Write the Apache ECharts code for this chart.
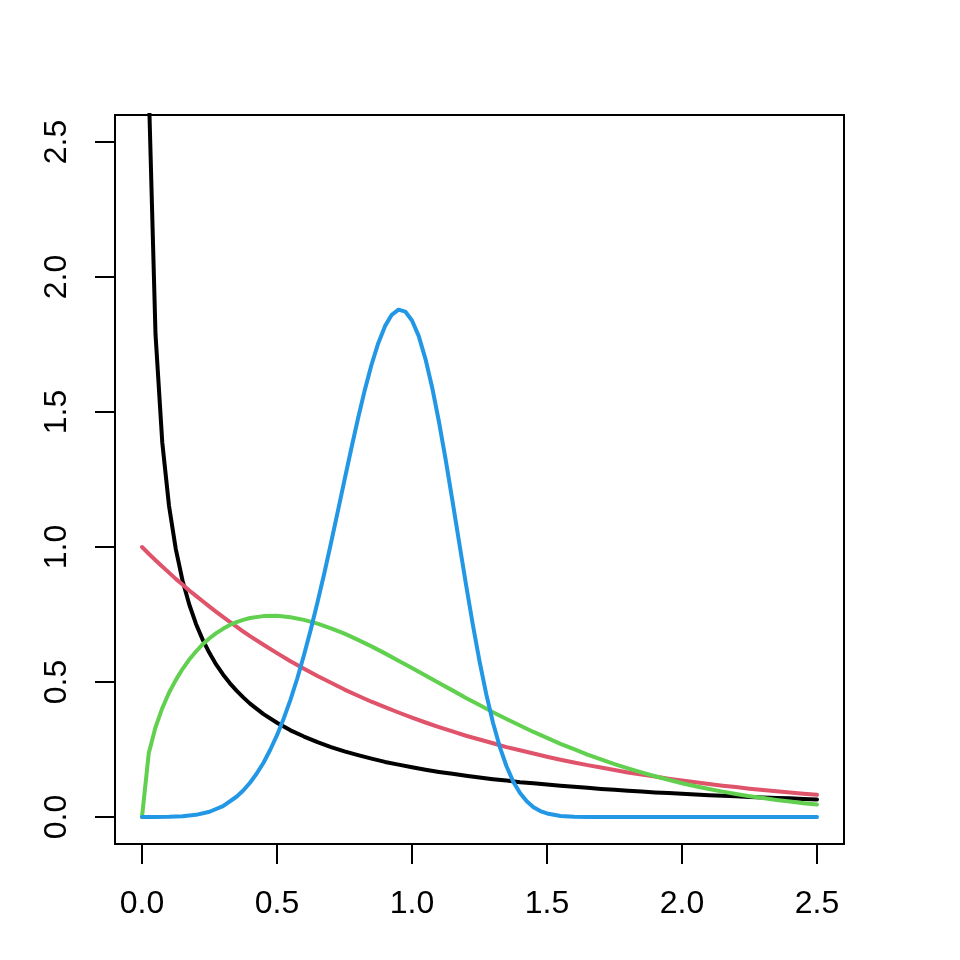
<!DOCTYPE html>
<html>
<head>
<meta charset="utf-8">
<script src="https://cdn.jsdelivr.net/npm/echarts@6/dist/echarts.min.js"></script>
<style>
html,body{margin:0;padding:0;background:#fff;}
#chart{width:960px;height:960px;}
</style>
</head>
<body>
<div id="chart"></div>
<script>
// shared x grid for black, red, green curves
const xs = [0,0.025,0.05,0.075,0.1,0.125,0.15,0.175,0.2,0.225,0.25,0.275,0.3,0.325,0.35,0.375,0.4,0.45,0.5,0.55,0.6,0.65,0.7,0.75,0.8,0.85,0.9,0.95,1,1.05,1.1,1.15,1.2,1.25,1.3,1.35,1.4,1.45,1.5,1.55,1.6,1.65,1.7,1.75,1.8,1.85,1.9,1.95,2,2.05,2.1,2.15,2.2,2.25,2.3,2.35,2.4,2.45,2.5];
const yBlack = [null,2.70,1.788,1.388,1.153,0.993,0.876,0.787,0.715,0.656,0.607,0.564,0.528,0.496,0.468,0.443,0.420,0.381,0.349,0.321,0.298,0.277,0.259,0.243,0.229,0.216,0.204,0.194,0.184,0.175,0.167,0.160,0.153,0.146,0.140,0.135,0.129,0.125,0.120,0.116,0.112,0.108,0.104,0.101,0.097,0.094,0.091,0.089,0.086,0.083,0.081,0.079,0.077,0.074,0.072,0.070,0.069,0.067,0.065];
const yRed = [1.000,0.975,0.951,0.928,0.905,0.882,0.861,0.839,0.819,0.799,0.779,0.760,0.741,0.723,0.705,0.687,0.670,0.638,0.607,0.577,0.549,0.522,0.497,0.472,0.449,0.427,0.407,0.387,0.368,0.350,0.333,0.317,0.301,0.287,0.273,0.259,0.247,0.235,0.223,0.212,0.202,0.192,0.183,0.174,0.165,0.157,0.150,0.142,0.135,0.129,0.122,0.116,0.111,0.105,0.100,0.095,0.091,0.086,0.082];
const yGreen = [0,0.236,0.332,0.403,0.460,0.507,0.548,0.583,0.613,0.640,0.662,0.681,0.697,0.711,0.722,0.730,0.737,0.744,0.745,0.740,0.730,0.716,0.699,0.679,0.656,0.632,0.606,0.579,0.552,0.524,0.496,0.469,0.441,0.415,0.388,0.363,0.339,0.315,0.293,0.271,0.251,0.231,0.213,0.196,0.180,0.165,0.151,0.138,0.125,0.114,0.104,0.094,0.085,0.077,0.070,0.063,0.057,0.051,0.046];
// blue curve has its own, denser x grid around the peak
const xBlue = [0,0.05,0.1,0.15,0.2,0.25,0.3,0.35,0.375,0.4,0.425,0.45,0.475,0.5,0.525,0.55,0.575,0.6,0.625,0.65,0.675,0.7,0.725,0.75,0.775,0.8,0.825,0.85,0.875,0.9,0.925,0.95,0.975,1,1.025,1.05,1.075,1.1,1.125,1.15,1.175,1.2,1.225,1.25,1.275,1.3,1.325,1.35,1.375,1.4,1.425,1.45,1.475,1.5,1.55,1.6,1.65,2.5];
const yBlue = [0,0,0.0005,0.0025,0.008,0.0195,0.040,0.075,0.098,0.127,0.161,0.201,0.249,0.303,0.365,0.435,0.513,0.600,0.694,0.795,0.902,1.015,1.131,1.248,1.364,1.476,1.581,1.675,1.755,1.818,1.860,1.879,1.872,1.839,1.781,1.696,1.589,1.463,1.322,1.170,1.015,0.861,0.714,0.577,0.455,0.349,0.260,0.188,0.131,0.089,0.058,0.036,0.022,0.013,0.004,0.001,0,0];
const xTicks = [0,0.5,1,1.5,2,2.5];
const yTicks = [0,0.5,1,1.5,2,2.5];

const pairs = (x, y) => x.map((v, i) => [v, y[i]]);

const chart = echarts.init(document.getElementById('chart'), null, {renderer: 'canvas'});
const font = "'Liberation Sans', Arial, sans-serif";
const mkSeries = (data, color) => ({
  type: 'line', data: data, showSymbol: false, symbol: 'none',
  lineStyle: {color: color, width: 4, cap: 'round', join: 'round'}, itemStyle: {color: color},
  clip: true, smooth: false, animation: false, z: 2
});
chart.setOption({
  backgroundColor: '#ffffff',
  animation: false,
  grid: {left: 115, top: 115, width: 729, height: 729, show: true, borderColor: '#000', borderWidth: 2, backgroundColor: 'transparent'},
  xAxis: {
    type: 'value', min: -0.1, max: 2.6,
    axisLine: {show: false, onZero: false},
    splitLine: {show: false},
    axisTick: {show: true, inside: false, customValues: xTicks, length: 20, lineStyle: {color: '#000', width: 2}},
    axisLabel: {customValues: xTicks, formatter: v => v.toFixed(1), color: '#000', fontSize: 32, fontFamily: font, margin: 44}
  },
  yAxis: {
    type: 'value', min: -0.1, max: 2.6,
    axisLine: {show: false, onZero: false},
    splitLine: {show: false},
    axisTick: {show: true, inside: false, customValues: yTicks, length: 20, lineStyle: {color: '#000', width: 2}},
    axisLabel: {customValues: yTicks, formatter: v => v.toFixed(1), rotate: 90, color: '#000', fontSize: 32, fontFamily: font, margin: 42}
  },
  series: [
    mkSeries(pairs(xs, yBlack), '#000000'),
    mkSeries(pairs(xs, yRed), '#DF536B'),
    mkSeries(pairs(xs, yGreen), '#61D04F'),
    mkSeries(pairs(xBlue, yBlue), '#2297E6')
  ]
});
</script>
</body>
</html>
